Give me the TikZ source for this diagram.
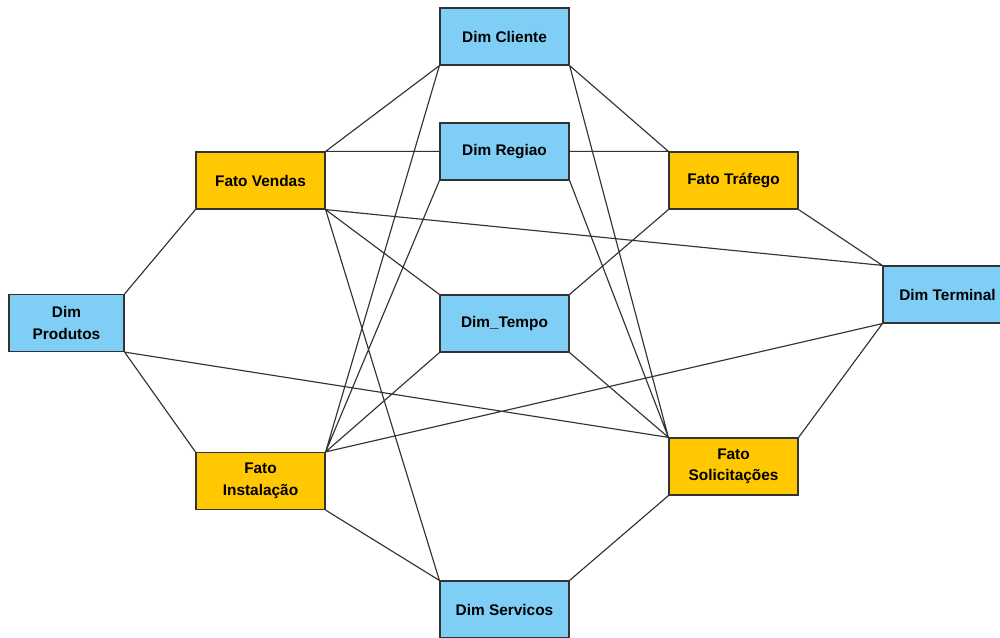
\documentclass[tikz,border=0pt]{standalone}
\usepackage{fontspec}
\setmainfont{Liberation Sans}
\definecolor{dimblue}{HTML}{7FCEF5}
\definecolor{fatoorange}{HTML}{FFC800}
\definecolor{edgegray}{HTML}{333333}
\begin{document}
\begin{tikzpicture}[x=1pt,y=-1pt,
  box/.style={draw=edgegray,line width=1.2pt,minimum height=57pt,inner sep=0pt,
    align=center,font=\fontsize{15.4}{21.5}\selectfont\bfseries},
  dim/.style={box,fill=dimblue,minimum width=129pt},
  fato/.style={box,fill=fatoorange,minimum width=129pt},
  link/.style={draw=edgegray,line width=1.15pt}]
\useasboundingbox (0,0) rectangle (1000,637);
\begin{scope}
\clip (0,0) rectangle (1000,637);
% dimension and fact tables
\node[dim] (cli) at (504.5,36.5) {Dim Cliente};
\node[dim] (reg) at (504.5,151.5) {Dim Regiao};
\node[fato] (ven) at (260.5,180.5) {Fato Vendas};
\node[fato] (tra) at (733.5,180.5) {Fato Tráfego};
\node[dim] (ter) at (947.5,294.5) {Dim Terminal};
\node[dim,minimum width=115pt] (pro) at (66.5,323) {Dim\\Produtos};
\node[dim] (tem) at (504.5,323.5) {Dim\_Tempo};
\node[fato] (ins) at (260.5,481) {Fato\\Instalação};
\node[fato] (sol) at (733.5,466.5) {Fato\\Solicitações};
\node[dim] (ser) at (504.5,609.5) {Dim Servicos};
% relationships, corner to corner
\path[link]
  (ven.north east) -- (cli.south west)
  (ven.north east) -- (reg.west |- ven.north east)
  (ven.south east) -- (tem.north west)
  (ven.south east) -- (ter.north west)
  (ven.south east) -- (ser.north west)
  (ven.south west) -- (pro.north east)
  (pro.south east) -- (ins.north west)
  (pro.south east) -- (sol.north west)
  (ins.north east) -- (cli.south west)
  (ins.north east) -- (reg.south west)
  (ins.north east) -- (tem.south west)
  (ins.north east) -- (ter.south west)
  (ins.south east) -- (ser.north west)
  (tra.north west) -- (cli.south east)
  (tra.north west) -- (reg.east |- tra.north west)
  (tra.south west) -- (tem.north east)
  (tra.south east) -- (ter.north west)
  (sol.north west) -- (cli.south east)
  (sol.north west) -- (reg.south east)
  (sol.north west) -- (tem.south east)
  (sol.north east) -- (ter.south west)
  (sol.south west) -- (ser.north east);
\end{scope}
\end{tikzpicture}
\end{document}
